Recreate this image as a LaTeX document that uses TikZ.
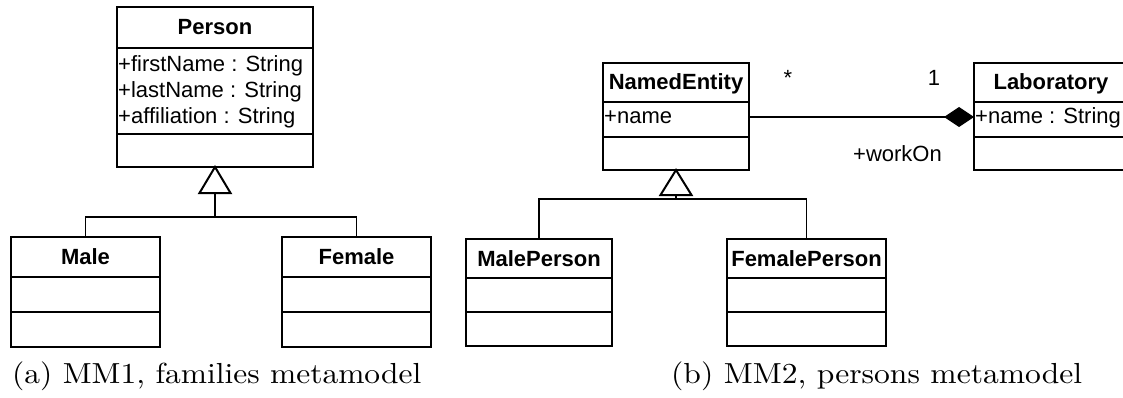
\documentclass[tikz,border=0pt]{standalone}
\usepackage{fontspec}
\newfontfamily\umlfont{Liberation Sans}
\usetikzlibrary{arrows.meta}
\begin{document}
\begin{tikzpicture}[x=1pt,y=-1pt,
  umltext/.style={font=\umlfont\fontsize{22}{26}\selectfont, inner sep=0pt},
  classbox/.style={draw, line width=2pt, inner sep=0pt, outer sep=0pt, fill=white},
  classname/.style={font=\umlfont\bfseries\fontsize{22}{26}\selectfont, inner sep=0pt, anchor=base},
  attr/.style={umltext, anchor=base west},
  label/.style={umltext, anchor=base},
  sep/.style={line width=2pt},
  rel/.style={line width=1.3pt},
  gentri/.style={line width=2pt, fill=white, line join=miter},
  caption/.style={inner sep=0pt, anchor=base west}]

\path[use as bounding box, clip] (0,0) rectangle (1123,398);
\fill[white] (0,0) rectangle (1123,398);

% ---------- (a) families metamodel ----------
\node[classbox, minimum width=196pt, minimum height=160pt] (person) at (215,87) {};
\draw[sep] (person.west |- 0,48) -- (person.east |- 0,48);
\draw[sep] (person.west |- 0,134) -- (person.east |- 0,134);
\node[classname] (personname) at (215,35) {Person};
\node[attr] (pa1) at (118,72) {+firstName : String};
\node[attr] (pa2) at (118,98) {+lastName : String};
\node[attr] (pa3) at (118,124) {+affiliation : String};

\node[classbox, minimum width=149pt, minimum height=110pt] (male) at (85.5,292) {};
\draw[sep] (male.west |- 0,277) -- (male.east |- 0,277);
\draw[sep] (male.west |- 0,312) -- (male.east |- 0,312);
\node[classname] (malename) at (85.5,264.5) {Male};

\node[classbox, minimum width=149pt, minimum height=110pt] (female) at (356.5,292) {};
\draw[sep] (female.west |- 0,277) -- (female.east |- 0,277);
\draw[sep] (female.west |- 0,312) -- (female.east |- 0,312);
\node[classname] (femalename) at (356.5,264.5) {Female};

% generalization: Male, Female -> Person
\coordinate (tribaseA) at ([yshift=-26pt]person.south);
\coordinate (barA) at ([yshift=-50pt]person.south);
\draw[rel] (male.north) |- (barA) -| (female.north);
\draw[rel] (barA) -- (tribaseA);
\draw[gentri] (person.south) -- ([xshift=-15.5pt]tribaseA) -- ([xshift=15.5pt]tribaseA) -- cycle;

\node[caption] (capa) at (12,383)
  {\resizebox*{409pt}{29pt}{(a) MM1, families metamodel}};

% ---------- (b) persons metamodel ----------
\node[classbox, minimum width=146pt, minimum height=107pt] (named) at (676,116.5) {};
\draw[sep] (named.west |- 0,102) -- (named.east |- 0,102);
\draw[sep] (named.west |- 0,137) -- (named.east |- 0,137);
\node[classname] (namedname) at (676,90) {NamedEntity};
\node[attr] (na1) at (604,124) {+name};

\node[classbox, minimum width=146pt, minimum height=107pt] (maleperson) at (539,292.5) {};
\draw[sep] (maleperson.west |- 0,278) -- (maleperson.east |- 0,278);
\draw[sep] (maleperson.west |- 0,312) -- (maleperson.east |- 0,312);
\node[classname] (malepersonname) at (539,266) {MalePerson};

\node[classbox, minimum width=159pt, minimum height=107pt] (femaleperson) at (806.5,292.5) {};
\draw[sep] (femaleperson.west |- 0,278) -- (femaleperson.east |- 0,278);
\draw[sep] (femaleperson.west |- 0,312) -- (femaleperson.east |- 0,312);
\node[classname] (femalepersonname) at (806.5,266) {FemalePerson};

\node[classbox, minimum width=154pt, minimum height=107pt] (lab) at (1051,116.5) {};
\draw[sep] (lab.west |- 0,102) -- (lab.east |- 0,102);
\draw[sep] (lab.west |- 0,137) -- (lab.east |- 0,137);
\node[classname] (labname) at (1051,90) {Laboratory};
\node[attr] (la1) at (975,124) {+name : String};

% generalization: MalePerson, FemalePerson -> NamedEntity
\coordinate (tribaseB) at ([yshift=-25pt]named.south);
\coordinate (barB) at ([yshift=-29pt]named.south);
\draw[rel] (maleperson.north) |- (barB) -| (femaleperson.north);
\draw[rel] (barB) -- (tribaseB);
\draw[gentri] (named.south) -- ([xshift=-15.5pt]tribaseB) -- ([xshift=15.5pt]tribaseB) -- cycle;

% composition: NamedEntity -> Laboratory
\coordinate (assocA) at (named.east |- 0,117);
\coordinate (assocB) at (lab.west |- 0,117);
\draw[rel, -{Diamond[length=30pt, width=20pt]}] (assocA) -- (assocB);
\node[label] (multmany) at (788,86) {*};
\node[label] (multone) at (934,86) {1};
\node[label] (role) at (897.5,161) {+workOn};

\node[caption] (capb) at (671,383)
  {\resizebox*{411pt}{29pt}{(b) MM2, persons metamodel}};
\end{tikzpicture}
\end{document}
